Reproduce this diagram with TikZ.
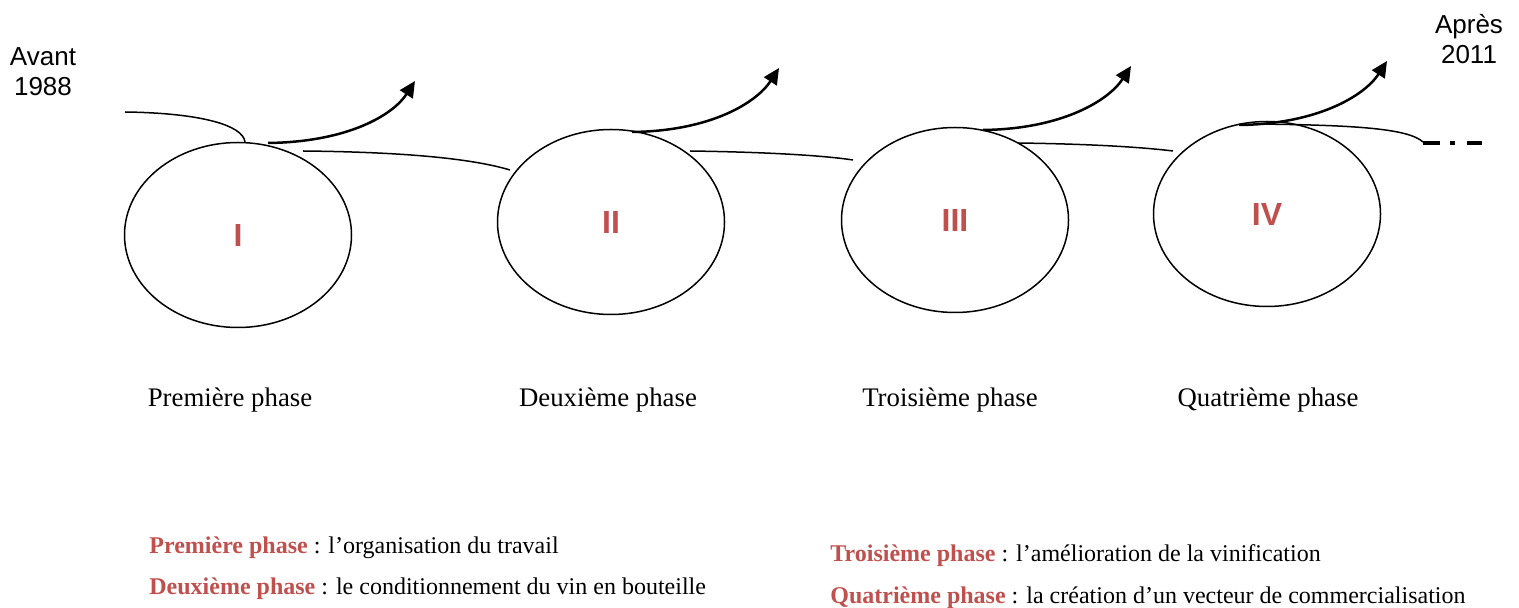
\documentclass[tikz,border=0pt]{standalone}
\usepackage{fontspec}
\setmainfont{Liberation Serif}
\newfontfamily\arialfont{Liberation Sans}
\usetikzlibrary{shapes.geometric,arrows.meta}
\definecolor{phred}{HTML}{C0504D}
\begin{document}
\begin{tikzpicture}[x=0.5pt,y=-0.5pt,
  phasebox/.style={ellipse,draw,line width=0.75pt,inner sep=0pt,outer sep=0pt,
    minimum width=113.5pt,minimum height=92.5pt,
    font=\arialfont\bfseries\fontsize{16}{18}\selectfont,text=phred},
  thinline/.style={line width=0.75pt},
  growth/.style={line width=1.25pt,-{Triangle[length=8pt,width=7.5pt]}},
  yearlabel/.style={align=center,font=\arialfont\fontsize{13}{15}\selectfont,inner sep=0pt},
  phaselabel/.style={font=\fontsize{13.4}{16}\selectfont,inner sep=0pt},
  legend/.style={anchor=base west,font=\fontsize{12}{14}\selectfont,inner sep=0pt}]
\useasboundingbox (0,0) rectangle (1519,608);

% phases
\node[phasebox] (e1) at (238,235) {I};
\node[phasebox] (e2) at (611,222) {II};
\node[phasebox] (e3) at (955,220) {III};
\node[phasebox] (e4) at (1267,214) {IV};

% year labels
\node[yearlabel] (avant) at (43,72) {Avant\\1988};
\node[yearlabel] (apres) at (1469,39) {Après\\2011};

% curve end points
\coordinate (l0s) at (125,112);
\coordinate (l0e) at (245,142);
\coordinate (a1s) at (268,143);
\coordinate (a1e) at (415,81);
\coordinate (m12s) at (303,151);
\coordinate (m12e) at (510,170);
\coordinate (a2s) at (632,132);
\coordinate (a2e) at (779,68);
\coordinate (m23s) at (690,151);
\coordinate (m23e) at (853,160);
\coordinate (a3s) at (983,130);
\coordinate (a3e) at (1131,66);
\coordinate (m34s) at (1018,143);
\coordinate (m34e) at (1173,151);
\coordinate (a4s) at (1239,125);
\coordinate (a4e) at (1387,61);
\coordinate (m4s) at (1255,124);
\coordinate (m4e) at (1423,142);
\coordinate (d4s) at (1423,143);
\coordinate (d4e) at (1482,143);

% thin connecting lines
\draw[thinline] (l0s) .. controls +(75,1) and +(-2,-17) .. (l0e);
\draw[thinline] (m12s) .. controls +(97,1) and +(-40,-12) .. (m12e);
\draw[thinline] (m23s) .. controls +(70,1) and +(-33,-5) .. (m23e);
\draw[thinline] (m34s) .. controls +(72,1) and +(-33,-4) .. (m34e);
\draw[thinline] (m4s) .. controls +(95,1) and +(-15,-14) .. (m4e);
\draw[line width=2pt,dash pattern=on 8.5pt off 5pt on 2.5pt off 6pt on 7.5pt off 10pt] (d4s) -- (d4e);

% growth arrows
\draw[growth] (a1s) .. controls +(80,-1) and +(-22,34) .. (a1e);
\draw[growth] (a2s) .. controls +(80,-1) and +(-22,34) .. (a2e);
\draw[growth] (a3s) .. controls +(80,-1) and +(-22,34) .. (a3e);
\draw[growth] (a4s) .. controls +(80,-1) and +(-22,34) .. (a4e);

% phase labels
\node[phaselabel] (p1) at (230,400) {Première phase};
\node[phaselabel] (p2) at (608,400) {Deuxième phase};
\node[phaselabel] (p3) at (950,400) {Troisième phase};
\node[phaselabel] (p4) at (1268,400) {Quatrième phase};

% legend
\node[legend] (g1) at (149,553) {\textcolor{phred}{\bfseries Première phase} : l’organisation du travail};
\node[legend] (g2) at (149,594) {\textcolor{phred}{\bfseries Deuxième phase} : le conditionnement du vin en bouteille};
\node[legend] (g3) at (830,561) {\textcolor{phred}{\bfseries Troisième phase} : l’amélioration de la vinification};
\node[legend] (g4) at (830,603) {\textcolor{phred}{\bfseries Quatrième phase} : la création d’un vecteur de commercialisation};
\end{tikzpicture}
\end{document}
